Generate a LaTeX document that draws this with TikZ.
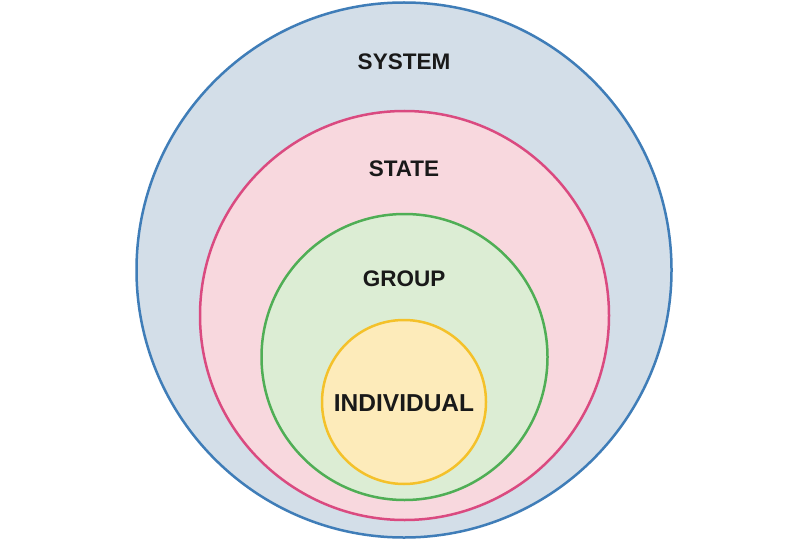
\documentclass[tikz,border=0pt]{standalone}
\usepackage{fontspec}
\setmainfont{Liberation Sans}
\definecolor{sysfill}{HTML}{D3DEE8}
\definecolor{sysline}{HTML}{3F7DB8}
\definecolor{stafill}{HTML}{F8D8DE}
\definecolor{staline}{HTML}{DA4A80}
\definecolor{grpfill}{HTML}{DCEDD4}
\definecolor{grpline}{HTML}{4FAE55}
\definecolor{indfill}{HTML}{FDEBBA}
\definecolor{indline}{HTML}{F4C12A}
\begin{document}
\begin{tikzpicture}[x=1pt,y=-1pt,
  ring/.style={line width=2.5pt},
  lab/.style={font=\bfseries\fontsize{22.5}{26}\selectfont, text=black!90, inner sep=0pt}]
\useasboundingbox (0,0) rectangle (810,540);
\fill[white] (0,0) rectangle (810,540);
\draw[ring, draw=sysline, fill=sysfill] (404,270) circle (267.5);
\draw[ring, draw=staline, fill=stafill] (404.5,315.5) circle (204.5);
\draw[ring, draw=grpline, fill=grpfill] (404.5,357) circle (143);
\draw[ring, draw=indline, fill=indfill] (404,402) circle (82);
\node[lab] (system) at (404,62) {SYSTEM};
\node[lab] (state) at (404,169) {STATE};
\node[lab] (group) at (404,279) {GROUP};
\node[lab, font=\bfseries\fontsize{24.5}{28}\selectfont] (indiv) at (404,403) {INDIVIDUAL};
\end{tikzpicture}
\end{document}
